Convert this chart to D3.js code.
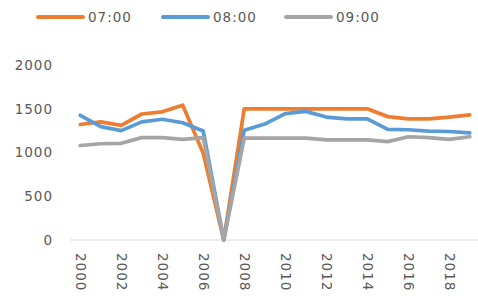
<!DOCTYPE html>
<html>
<head>
<meta charset="utf-8">
<script src="https://cdn.jsdelivr.net/npm/d3@7"></script>
<style>
  body { margin: 0; background: #fff; }
  text { font-family: "DejaVu Sans", sans-serif; fill: #595959; }
</style>
</head>
<body>
<div id="chart"></div>
<script>
var years = d3.range(2000, 2020);
var seriesNames = ["07:00", "08:00", "09:00"];
var colors = ["#ED7D31", "#5B9BD5", "#A5A5A5"];

var v0700 = [1320, 1350, 1310, 1440, 1465, 1540, 990, 0, 1500, 1500, 1500, 1500, 1500, 1500, 1500, 1410, 1385, 1385, 1405, 1430];
var v0800 = [1425, 1295, 1250, 1350, 1380, 1340, 1245, 0, 1255, 1325, 1445, 1470, 1405, 1385, 1385, 1265, 1260, 1245, 1240, 1225];
var v0900 = [1080, 1100, 1105, 1170, 1170, 1150, 1170, 0, 1165, 1165, 1165, 1165, 1145, 1145, 1145, 1125, 1180, 1170, 1150, 1180];

var yTicks = [0, 500, 1000, 1500, 2000];
var xTickYears = [2000, 2002, 2004, 2006, 2008, 2010, 2012, 2014, 2016, 2018];

var svgWidth = 478;
var svgHeight = 296;

var svg = d3.select("#chart")
  .append("svg")
  .attr("width", svgWidth)
  .attr("height", svgHeight);

var xScale = d3.scalePoint()
  .domain(years)
  .range([70, 480])
  .padding(0.5);

var yScale = d3.scaleLinear()
  .domain([0, 2000])
  .range([240, 65]);

// y labels, no lines
var leftAxis = d3.axisLeft(yScale)
  .tickValues(yTicks)
  .tickFormat(d3.format("d"))
  .tickSize(0)
  .tickPadding(0);
var yAxisG = svg.append("g")
  .attr("transform", "translate(53, 0)")
  .call(leftAxis);
yAxisG.select(".domain").remove();
yAxisG.selectAll("text")
  .style("font-family", "DejaVu Sans")
  .style("font-size", "13.5px")
  .style("letter-spacing", "1px")
  .attr("fill", "#595959");

// x axis line
svg.append("line")
  .attr("x1", 70)
  .attr("x2", 478)
  .attr("y1", yScale(0))
  .attr("y2", yScale(0))
  .attr("stroke", "#d9d9d9")
  .attr("stroke-width", 1);

// x labels rotated
svg.selectAll(".xlab")
  .data(xTickYears)
  .enter()
  .append("text")
  .attr("class", "xlab")
  .attr("transform", d => `translate(${xScale(d)}, 253) rotate(90)`)
  .attr("dy", "0.35em")
  .style("font-size", "13.5px")
  .style("letter-spacing", "1px")
  .text(d => d);

// lines
var line = d3.line()
  .x((d, i) => xScale(years[i]))
  .y(d => yScale(d));

[v0700, v0800, v0900].forEach(function(vals, k) {
  svg.append("path")
    .datum(vals)
    .attr("d", line)
    .attr("fill", "none")
    .attr("stroke", colors[k])
    .attr("stroke-width", 3.75)
    .attr("stroke-linejoin", "round")
    .attr("stroke-linecap", "round");
});

// legend
var legendX = [38, 163, 286];
var legend = svg.selectAll(".leg")
  .data(seriesNames)
  .enter()
  .append("g")
  .attr("class", "leg")
  .attr("transform", (d, i) => `translate(${legendX[i]}, 17)`);

legend.append("line")
  .attr("x1", 0)
  .attr("x2", 45)
  .attr("stroke", (d, i) => colors[i])
  .attr("stroke-width", 4)
  .attr("stroke-linecap", "round");

legend.append("text")
  .attr("x", 50)
  .attr("dy", "0.35em")
  .style("font-size", "13.5px")
  .style("letter-spacing", "1px")
  .text(d => d);
</script>
</body>
</html>
